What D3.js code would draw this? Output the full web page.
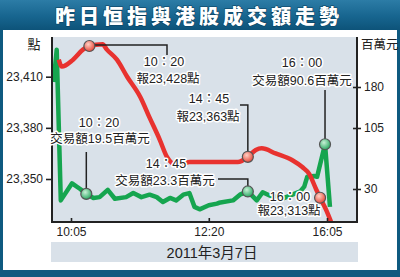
<!DOCTYPE html>
<html><head><meta charset="utf-8">
<script src="https://cdn.jsdelivr.net/npm/d3@7"></script>
<style>
html,body{margin:0;padding:0;background:#fff;}
svg{display:block;}
text{font-family:"Liberation Sans",Arial,"Noto Sans CJK TC",sans-serif;}
</style></head>
<body>
<svg id="c" width="400" height="277"></svg>
<script>
// ---- data ----
const title = "昨日恒指與港股成交額走勢";
const dateLabel = "2011年3月7日";
const leftUnit = "點";
const rightUnit = "百萬元";

const indexTimes  = ["9:53","9:56","10:07","10:17","10:23","10:36","10:40","10:50","11:00","11:13","11:22","11:32","11:39","11:49","12:01","12:20","12:30","14:30","14:35","14:45","14:53","14:59","15:13","15:30","15:40","15:47","15:54","15:58","16:04","16:09"];
const indexValues = [23420,23416,23420,23426,23428,23429,23426,23420,23410,23398,23386,23373,23363,23358,23360,23360,23360,23360,23360,23363,23367,23368,23365,23361,23357,23353,23344,23339,23332,23325];

const volTimes  = ["9:48","9:51","9:55","10:06","10:14","10:20","10:27","10:33","10:41","10:48","10:59","11:06","11:14","11:22","11:29","11:35","11:42","11:48","11:55","12:01","12:06","12:11","12:20","12:28","12:30","14:30","14:37","14:45","14:54","15:00","15:07","15:15","15:22","15:30","15:38","15:42","15:45","15:52","15:55","16:03","16:08"];
const volValues = [189,248,16,37,30,24,19,20,29,18,20,25,20,23,20,14,19,16,23,25,8,5,10,12,13,16,23,27,16,26,22,20,19,23,27,33,45,46,45,85,8];

const indexMarkTimes  = ["10:23","14:45","15:58"];
const indexMarkValues = [23428,23363,23339];
const volMarkTimes  = ["10:20","14:45","16:03"];
const volMarkValues = [24,27,85];

const indexTicks = [23350,23380,23410];
const volTicks = [30,105,180];
const timeTicks = ["10:05","12:20","16:05"];

const annIndexTexts = [["10：20","報23,428點"],["14：45","報23,363點"],["16：00","報23,313點"]];
const annVolTexts   = [["10：20","交易額19.5百萬元"],["14：45","交易額23.3百萬元"],["16：00","交易額90.6百萬元"]];

// ---- helpers ----
const toMin = s => { const [h,m] = s.split(":").map(Number); return h*60+m; };

const svg = d3.select("#c");
const defs = svg.append("defs");
const tg = defs.append("linearGradient").attr("id","tg").attr("x1",0).attr("y1",0).attr("x2",0).attr("y2",1);
tg.append("stop").attr("offset","0%").attr("stop-color","#2c7ca6");
tg.append("stop").attr("offset","55%").attr("stop-color","#17658f");
tg.append("stop").attr("offset","100%").attr("stop-color","#0d5379");
function rg(id,c0,c1){
  const g = defs.append("radialGradient").attr("id",id).attr("cx","40%").attr("cy","35%").attr("r","65%");
  g.append("stop").attr("offset","0%").attr("stop-color",c0);
  g.append("stop").attr("offset","100%").attr("stop-color",c1);
}
rg("rgR","#ffd0c4","#e8483a");
rg("rgG","#c8f0d6","#2aa862");

// frame
svg.append("rect").attr("width",400).attr("height",277).attr("fill","#0f5a80");
svg.append("rect").attr("width",400).attr("height",30).attr("fill","url(#tg)");
svg.append("rect").attr("x",3).attr("y",30).attr("width",394).attr("height",240).attr("fill","#ffffff");
svg.append("text").attr("x",199).attr("y",23.5).attr("text-anchor","middle")
  .style("font-family","'Noto Sans CJK TC','Noto Sans CJK SC',sans-serif")
  .style("font-weight","900").style("font-size","20px").style("letter-spacing","4px")
  .attr("fill","#fff").attr("stroke","#0a3f5e").attr("stroke-width",1.2).style("paint-order","stroke")
  .text(title);

// scales
const x = d3.scaleLinear().domain([605,750,870,965]).range([71,219,233,327]);
const yL = d3.scaleLinear().domain([23350,23410]).range([179,76.7]);
const yR = d3.scaleLinear().domain([30,105,180]).range([189,128,87]);

const L = 52, R = 357, T = 37, B = 222;
svg.append("rect").attr("x",L).attr("y",T).attr("width",R-L).attr("height",B-T).attr("fill","#d9e1e9");

// lines
const volData = volTimes.map((t,i)=>[toMin(t),volValues[i]]);
const idxData = indexTimes.map((t,i)=>[toMin(t),indexValues[i]]);
svg.append("path").datum(volData)
  .attr("d", d3.line().x(d=>x(d[0])).y(d=>yR(d[1])))
  .attr("fill","none").attr("stroke","#15a54f").attr("stroke-width",4.5)
  .attr("stroke-linejoin","round").attr("stroke-linecap","butt");
svg.append("path").datum(idxData)
  .attr("d", d3.line().x(d=>x(d[0])).y(d=>yL(d[1])).curve(d3.curveMonotoneX))
  .attr("fill","none").attr("stroke","#e8322f").attr("stroke-width",4.5)
  .attr("stroke-linejoin","round").attr("stroke-linecap","butt");

// axes
const gl = svg.append("g").attr("transform",`translate(${L},0)`)
  .call(d3.axisLeft(yL).tickValues(indexTicks).tickFormat(d3.format(",")).tickSize(6).tickSizeOuter(0).tickPadding(3));
const gr = svg.append("g").attr("transform",`translate(${R},0)`)
  .call(d3.axisRight(yR).tickValues(volTicks).tickSize(4).tickSizeOuter(0).tickPadding(3));
gr.selectAll(".tick line").attr("x1",-4);
const gb = svg.append("g").attr("transform",`translate(0,${B})`)
  .call(d3.axisBottom(x).tickValues(timeTicks.map(toMin)).tickFormat((d,i)=>timeTicks[i]).tickSize(-4).tickSizeOuter(0).tickPadding(9));
[gl,gr,gb].forEach(g=>{
  g.select(".domain").remove();
  g.selectAll(".tick line").attr("stroke","#222").attr("stroke-width",1.6);
  g.selectAll(".tick text").attr("fill","#222").style("font-size","12px");
});
gb.selectAll(".tick text").attr("dy","0.4em");
// axis frame lines
svg.append("line").attr("x1",L).attr("x2",L).attr("y1",T).attr("y2",B+1).attr("stroke","#222").attr("stroke-width",2);
svg.append("line").attr("x1",R).attr("x2",R).attr("y1",T).attr("y2",B+1).attr("stroke","#222").attr("stroke-width",2);
svg.append("line").attr("x1",L-1).attr("x2",R+1).attr("y1",B).attr("y2",B).attr("stroke","#222").attr("stroke-width",2);

svg.append("text").attr("x",34).attr("y",49).attr("text-anchor","middle").attr("fill","#222")
  .style("font-size","13px").style("font-family","'Noto Sans CJK TC',sans-serif").text(leftUnit);
svg.append("text").attr("x",361).attr("y",49).attr("fill","#222")
  .style("font-size","12.5px").style("font-family","'Noto Sans CJK TC',sans-serif").text(rightUnit);

// date bar
svg.append("rect").attr("x",51).attr("y",242).attr("width",307).attr("height",20).attr("fill","#d9e1e9");
svg.append("text").attr("x",212).attr("y",258).attr("text-anchor","middle").attr("fill","#222")
  .style("font-size","14.5px").text(dateLabel);

// annotations
const iPts = indexMarkTimes.map((t,i)=>[x(toMin(t)), yL(indexMarkValues[i])]);
const vPts = volMarkTimes.map((t,i)=>[x(toMin(t)), yR(volMarkValues[i])]);

const connectors = [
  `M${iPts[0][0]},${iPts[0][1]-1}H167V55`,
  `M${vPts[0][0]},${vPts[0][1]}V152`,
  `M${iPts[1][0]},${iPts[1][1]}V105H240`,
  `M${vPts[1][0]},${vPts[1][1]}V179H218`,
  `M${vPts[2][0]},${vPts[2][1]}V90`
];
svg.append("g").selectAll("path").data(connectors).join("path")
  .attr("d",d=>d).attr("fill","none").attr("stroke","#222").attr("stroke-width",1.5);

const labelPos = [
  {lines:annIndexTexts[0], pos:[[164,66],[168,83]]},
  {lines:annVolTexts[0],   pos:[[99,127],[100,143]]},
  {lines:annIndexTexts[1], pos:[[209,103],[208,121]]},
  {lines:annVolTexts[1],   pos:[[166,168],[165,185]]},
  {lines:annVolTexts[2],   pos:[[302,67],[302,85]]},
  {lines:annIndexTexts[2], pos:[[290,201],[289,215]]}
];
const lg = svg.append("g");
labelPos.forEach(a=>{
  a.lines.forEach((s,j)=>{
    lg.append("text").attr("x",a.pos[j][0]).attr("y",a.pos[j][1]).attr("text-anchor","middle")
      .attr("fill","#222").attr("stroke","#fff").attr("stroke-width",3).attr("stroke-linejoin","round")
      .style("paint-order","stroke").style("font-size","12.5px").text(s);
  });
});

// markers
svg.append("g").selectAll("circle").data(vPts).join("circle")
  .attr("cx",d=>d[0]).attr("cy",d=>d[1]).attr("r",5.5)
  .attr("fill","url(#rgG)").attr("stroke","#555").attr("stroke-width",1.2);
svg.append("g").selectAll("circle").data(iPts).join("circle")
  .attr("cx",d=>d[0]).attr("cy",d=>d[1]).attr("r",5.5)
  .attr("fill","url(#rgR)").attr("stroke","#555").attr("stroke-width",1.2);
</script>
</body></html>
